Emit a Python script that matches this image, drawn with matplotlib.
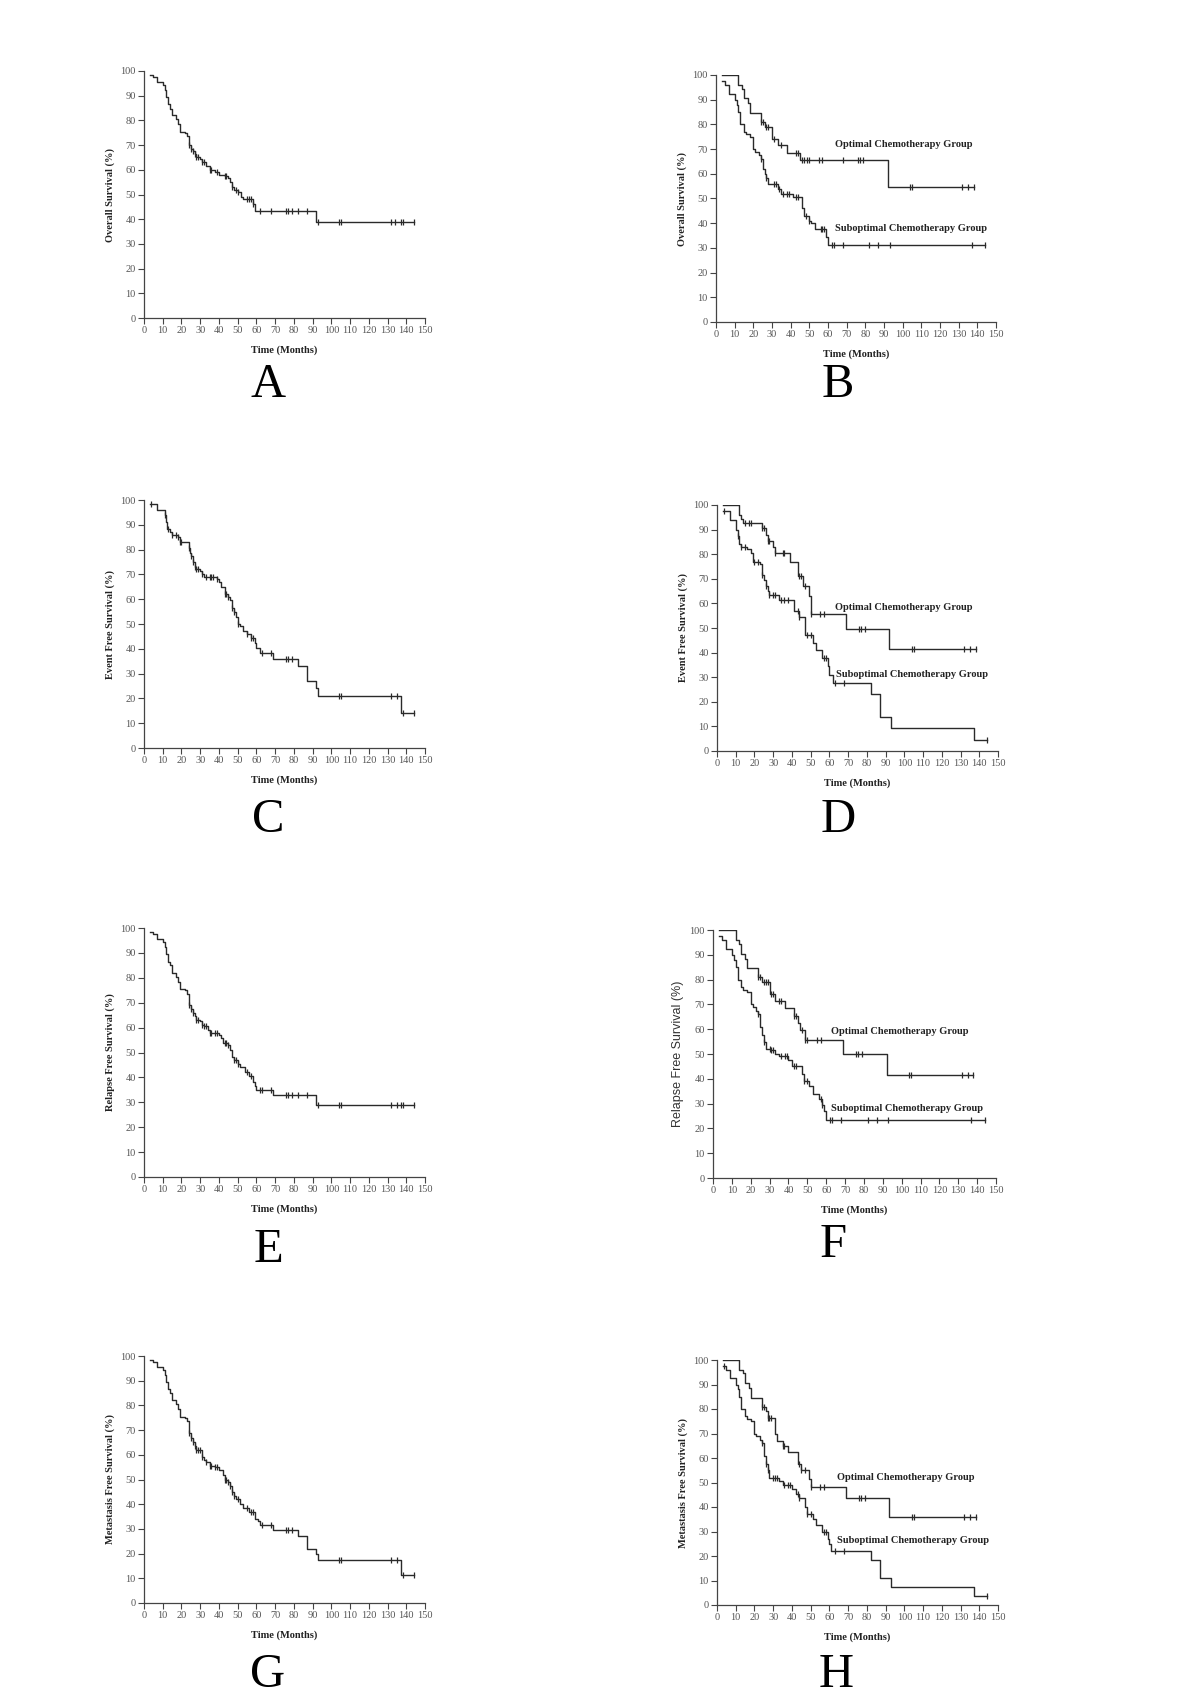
import numpy as np
import matplotlib
matplotlib.use("Agg")
import matplotlib.pyplot as plt

plt.rcParams['font.family'] = ['Liberation Serif', 'DejaVu Serif']

# ---- data ----
# A: overall survival, all patients
a_t = [3, 5, 7, 10, 11, 12, 13, 14, 15, 17, 18, 19, 22, 23, 24, 25, 26, 27, 28, 30, 31, 33, 35, 38,
       40, 43, 45, 46, 47, 48, 50, 52, 53, 58, 59, 92]
a_s = [98.5, 97.5, 95.5, 94.5, 92.5, 89.5, 86.5, 84.5, 82, 80.5, 78.5, 75.5, 75, 73.5, 70, 68.5, 67.5,
       66.5, 65, 64.5, 63, 61.5, 60, 59, 58, 57.5, 56.5, 55, 53, 52, 51, 49, 48, 46, 43.5, 39]
a_c = [24, 25, 26, 27, 28, 29, 31, 32, 35, 36, 39, 43, 44, 47, 49, 50, 55, 56, 57, 58, 62, 68, 76, 77,
       79, 82, 87, 93, 104, 105, 132, 134, 137, 138, 144]

# B: overall survival by group
b_opt_t = [3, 12, 14, 15, 17, 18, 24, 26, 30, 33, 38, 45, 92]
b_opt_s = [100, 96, 94.5, 90.5, 88.5, 84.5, 81, 79, 74, 71.5, 68.5, 65.5, 54.5]
b_opt_c = [24, 25, 27, 28, 31, 35, 43, 44, 46, 47, 49, 50, 55, 57, 68, 76, 77, 79, 104, 105, 132, 135, 138]
b_sub_t = [3, 5, 7, 10, 11, 12, 13, 15, 16, 18, 20, 21, 23, 24, 25, 26, 27, 28, 33, 35, 41, 46, 47, 50,
           51, 53, 59, 60]
b_sub_s = [97.5, 96, 92.5, 90, 88, 85, 80, 77, 76, 75, 70, 69, 67.5, 66, 62, 60, 58.5, 56, 54, 52, 50.5,
           46, 43, 41, 40, 37.5, 34.5, 31]
b_sub_c = [24, 27, 31, 32, 34, 36, 38, 39, 43, 44, 48, 50, 56, 57, 58, 62, 63, 68, 82, 87, 93, 137, 144]

# C: event free survival, all patients
c_t = [3, 7, 11, 12, 12.5, 14, 15, 18, 19, 24, 24.5, 25, 26, 27, 28, 30, 31, 32, 39, 40, 41, 43, 45,
       46, 47, 48, 49, 50, 51, 53, 55, 57, 59, 60, 62, 69, 82, 87, 92, 93, 137]
c_s = [98.5, 96, 94, 91, 88.5, 87, 86, 85, 83, 80.5, 78.5, 77.5, 75, 73, 72, 71.5, 70, 69, 68, 67, 65,
       62, 61, 59.5, 56.5, 55, 53, 50, 49, 47, 46, 44.5, 42.5, 40.5, 38.5, 36, 33, 27, 24, 21, 14]
c_c = [4, 11, 13, 15, 17, 18, 19, 20, 24, 25, 26, 27, 28, 29, 31, 33, 35, 36, 37, 39, 43, 44, 45, 47,
       48, 50, 55, 57, 58, 63, 68, 76, 77, 79, 104, 105, 132, 135, 138, 144]

# D: event free survival by group
d_opt_t = [3, 12, 13, 14, 24, 26, 27, 30, 31, 39, 43, 46, 49, 50, 69, 92]
d_opt_s = [100, 96, 94.5, 92.5, 90.5, 88, 85.5, 83, 80.5, 77, 71, 67, 63, 55.5, 49.5, 41.5]
d_opt_c = [15, 17, 18, 24, 25, 27, 28, 31, 35, 36, 44, 45, 47, 50, 55, 57, 76, 77, 79, 104, 105, 132, 135, 138]
d_sub_t = [3, 7, 10, 11, 12, 13, 16, 18, 19, 23, 24, 25, 26, 27, 28, 33, 41, 44, 47, 51, 53, 56, 59,
           60, 62, 82, 87, 93, 137]
d_sub_s = [97.5, 94, 90, 87.5, 84, 83, 82, 80.5, 77, 76, 71.5, 69.5, 67, 65, 63.5, 61.5, 57, 54.5, 47,
           44, 41, 38, 34.5, 31, 27.5, 23, 14, 9.5, 4.5]
d_sub_c = [4, 11, 13, 15, 20, 22, 24, 26, 28, 30, 31, 34, 36, 38, 43, 44, 48, 50, 57, 58, 63, 68, 144]

# E: relapse free survival, all patients
e_t = [3, 5, 7, 10, 11, 12, 13, 14, 15, 17, 18, 19, 22, 23, 24, 25, 26, 27, 28, 30, 31, 32, 34, 35,
       40, 41, 42, 45, 46, 47, 48, 50, 51, 54, 56, 58, 59, 60, 69, 92]
e_s = [98.5, 97.5, 95.5, 94.5, 92.5, 89.5, 86.5, 85, 82, 80.5, 78.5, 75.5, 75, 73.5, 69, 67.5, 66,
       64.5, 63, 62.5, 61, 60.5, 59, 58, 57, 56, 54, 53, 51, 48, 47, 45.5, 44, 42, 40.5, 38, 36.5, 35,
       33, 29]
e_c = [24, 25, 26, 28, 29, 31, 32, 33, 35, 36, 38, 39, 43, 44, 45, 48, 49, 50, 55, 57, 62, 63, 68, 76,
       77, 79, 82, 87, 93, 104, 105, 132, 135, 137, 138, 144]

# F: relapse free survival by group
f_opt_t = [3, 12, 14, 15, 17, 18, 24, 26, 30, 33, 38, 43, 45, 46, 49, 69, 92]
f_opt_s = [100, 96, 94.5, 90.5, 88.5, 84.5, 81, 79, 74, 71.5, 68.5, 65.5, 62.5, 59.5, 55.5, 50, 41.5]
f_opt_c = [24, 25, 27, 28, 29, 31, 32, 35, 36, 43, 44, 47, 49, 50, 55, 57, 76, 77, 79, 104, 105, 132, 135, 138]
f_sub_t = [3, 5, 7, 10, 11, 12, 13, 15, 16, 18, 20, 21, 23, 24, 25, 26, 27, 28, 31, 33, 35, 40, 42,
           47, 48, 51, 53, 56, 58, 59, 60]
f_sub_s = [97.5, 96, 92.5, 90, 88, 85, 80, 77, 76, 75, 70, 69, 67.5, 66, 61, 57.5, 55, 52, 51.5, 50,
           49, 47.5, 45, 42, 39, 37, 34, 32, 29.5, 27, 23.5]
f_sub_c = [24, 27, 30, 31, 32, 36, 38, 39, 43, 44, 48, 50, 57, 58, 62, 63, 68, 82, 87, 93, 137, 144]

# G: metastasis free survival, all patients
g_t = [3, 5, 7, 10, 11, 12, 13, 14, 15, 17, 18, 19, 22, 23, 24, 25, 26, 27, 28, 31, 32, 33, 35, 38,
       40, 42, 43, 45, 46, 47, 48, 49, 51, 53, 56, 59, 61, 62, 69, 82, 87, 92, 93, 137]
g_s = [98.5, 97.5, 95.5, 94.5, 92.5, 89.5, 86.5, 85, 82, 80.5, 78.5, 75.5, 75, 73.5, 69, 67, 65,
       63.5, 62, 59, 58, 57, 55.5, 55, 54, 52, 50, 49, 47.5, 45, 43.5, 42, 40, 38.5, 37, 34, 33, 31.5,
       29.5, 27, 22, 20, 17.5, 11.5]
g_c = [24, 25, 26, 27, 28, 29, 30, 31, 33, 35, 36, 38, 39, 43, 44, 45, 46, 47, 48, 50, 55, 57, 58, 63,
       68, 76, 77, 79, 104, 105, 132, 135, 138, 144]

# H: metastasis free survival by group
h_opt_t = [3, 12, 14, 15, 17, 18, 24, 26, 27, 31, 32, 35, 38, 43, 45, 49, 50, 69, 92]
h_opt_s = [100, 96, 94.5, 90.5, 88.5, 84.5, 81, 79, 76.5, 70, 67, 65, 62.5, 57.5, 55, 51.5, 48, 43.5, 36]
h_opt_c = [24, 25, 27, 28, 29, 35, 36, 44, 45, 47, 50, 55, 57, 76, 77, 79, 104, 105, 132, 135, 138]
h_sub_t = [3, 5, 7, 10, 11, 12, 13, 15, 16, 18, 20, 21, 23, 24, 25, 26, 27, 28, 33, 35, 40, 42, 44,
           47, 48, 51, 53, 56, 59, 60, 61, 82, 87, 93, 137]
h_sub_s = [97.5, 96, 92.5, 90, 88, 85, 80, 77, 76, 75, 70, 69, 67.5, 66, 61, 57.5, 55, 52, 50.5, 49,
           47.5, 45.5, 43.5, 40, 37, 35, 32.5, 30, 27, 25, 22, 18.5, 11, 7.5, 3.5]
h_sub_c = [4, 24, 26, 27, 30, 31, 32, 36, 38, 39, 43, 44, 48, 50, 57, 58, 63, 68, 144]

# ---- layout: pixel boxes (x0, x1, ytop, ybottom) of each axes ----
W, H = 1200, 1697
fig = plt.figure(figsize=(W / 100, H / 100), dpi=100)


def add_axes(x0, x1, yt, yb):
    return fig.add_axes([x0 / W, 1 - yb / H, (x1 - x0) / W, (yb - yt) / H])


def km(ax, t, s, c, tend):
    t = list(t) + [tend]
    s = list(s) + [s[-1]]
    ax.step(t, s, where='post', color='#2a2a2a', lw=1.0)
    idx = np.searchsorted(np.array(t[:-1]), np.array(c), side='right') - 1
    cy = np.array(s)[idx]
    ax.plot(c, cy, ls='none', marker='|', ms=5, mew=0.9, color='#2a2a2a')


def style(ax, ylabel, sans=False):
    ax.set_xlim(0, 150)
    ax.set_ylim(0, 100)
    ax.set_xticks(np.arange(0, 151, 10))
    ax.set_yticks(np.arange(0, 101, 10))
    for sp in ['top', 'right']:
        ax.spines[sp].set_visible(False)
    for sp in ['left', 'bottom']:
        ax.spines[sp].set_color('#444444')
        ax.spines[sp].set_linewidth(0.9)
    ax.tick_params(direction='out', length=4, width=0.8, colors='#444444',
                   labelsize=7.5, labelcolor='#555555', pad=2)
    ax.set_xlabel('Time (Months)', fontsize=7.5, fontweight='bold', color='#222222', labelpad=7)
    if sans:
        ax.set_ylabel(ylabel, fontsize=9, family=['Liberation Sans', 'DejaVu Sans'],
                      color='#333333', labelpad=4)
    else:
        ax.set_ylabel(ylabel, fontsize=7.5, fontweight='bold', color='#222222', labelpad=4)


def group_text(ax, xo, yo, xs, ys):
    ax.text(xo, yo, 'Optimal Chemotherapy Group', fontsize=7.5, fontweight='bold', color='#222222')
    ax.text(xs, ys, 'Suboptimal Chemotherapy Group', fontsize=7.5, fontweight='bold', color='#222222')


# A
ax = add_axes(144, 425, 71, 318)
km(ax, a_t, a_s, a_c, 144)
style(ax, 'Overall Survival (%)')
# B
ax = add_axes(716, 996, 75, 322)
km(ax, b_opt_t, b_opt_s, b_opt_c, 138)
km(ax, b_sub_t, b_sub_s, b_sub_c, 144)
style(ax, 'Overall Survival (%)')
group_text(ax, 64, 71, 64, 37)
# C
ax = add_axes(144, 425, 500, 748)
km(ax, c_t, c_s, c_c, 144)
style(ax, 'Event Free Survival (%)')
# D
ax = add_axes(717, 998, 505, 751)
km(ax, d_opt_t, d_opt_s, d_opt_c, 138)
km(ax, d_sub_t, d_sub_s, d_sub_c, 144)
style(ax, 'Event Free Survival (%)')
group_text(ax, 63, 57.5, 63.5, 30)
# E
ax = add_axes(144, 425, 928, 1177)
km(ax, e_t, e_s, e_c, 144)
style(ax, 'Relapse Free Survival (%)')
# F
ax = add_axes(713, 996, 930, 1178)
km(ax, f_opt_t, f_opt_s, f_opt_c, 138)
km(ax, f_sub_t, f_sub_s, f_sub_c, 144)
style(ax, 'Relapse Free Survival (%)', sans=True)
group_text(ax, 62.5, 58, 62.5, 27)
# G
ax = add_axes(144, 425, 1356, 1603)
km(ax, g_t, g_s, g_c, 144)
style(ax, 'Metastasis Free Survival (%)')
# H
ax = add_axes(717, 998, 1360, 1605)
km(ax, h_opt_t, h_opt_s, h_opt_c, 138)
km(ax, h_sub_t, h_sub_s, h_sub_c, 144)
style(ax, 'Metastasis Free Survival (%)')
group_text(ax, 64, 51, 64, 25.5)

# panel letters
letters = ['A', 'B', 'C', 'D', 'E', 'F', 'G', 'H']
letter_xy = [(268, 385), (838, 385), (268, 820), (838, 820),
             (268, 1250), (833, 1245), (268, 1675), (836, 1675)]
for lab, (x, y) in zip(letters, letter_xy):
    fig.text(x / W, 1 - y / H, lab, fontsize=35, ha='center', va='center', color='black')

fig.savefig('out.png', dpi=100, facecolor='white')
